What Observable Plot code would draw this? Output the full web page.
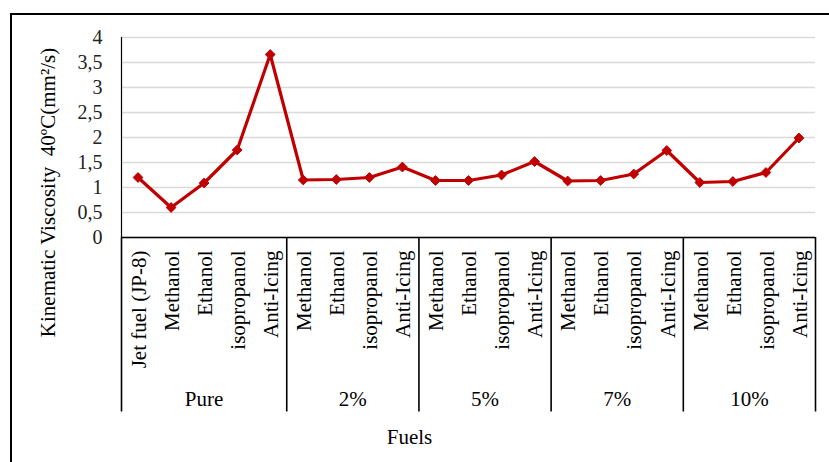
<!DOCTYPE html>
<html>
<head>
<meta charset="utf-8">
<script src="https://cdn.jsdelivr.net/npm/d3@7"></script>
<script src="https://cdn.jsdelivr.net/npm/@observablehq/plot@0.6"></script>
<style>
  html, body { margin: 0; padding: 0; background: #fff; }
  #chart { position: relative; width: 829px; height: 462px; overflow: hidden; background: #fff; }
  #chart .border { position: absolute; left: 10px; top: 13px; width: 900px; height: 600px;
    border: 2px solid #000; box-sizing: border-box; pointer-events: none; }
  #chart svg { position: absolute; left: 0; top: 0; }
</style>
</head>
<body>
<div id="chart"><div class="border"></div></div>
<script>
// Blend groups and the fuels measured in each
const groups = ["Pure", "2%", "5%", "7%", "10%"];
const pureFuels = ["Jet fuel (JP-8)", "Methanol", "Ethanol", "isopropanol", "Anti-Icing"];
const blendFuels = ["Methanol", "Ethanol", "isopropanol", "Anti-Icing"];

// Kinematic viscosity at 40 °C (mm²/s)
const pureValues = [1.20, 0.60, 1.09, 1.75, 3.66];
const blend2Values = [1.15, 1.16, 1.20, 1.41];
const blend5Values = [1.14, 1.14, 1.25, 1.52];
const blend7Values = [1.13, 1.14, 1.27, 1.74];
const blend10Values = [1.10, 1.12, 1.30, 1.99];

const yTicks = [0, 0.5, 1, 1.5, 2, 2.5, 3, 3.5, 4];

// Flatten into rows with a running category position
const groupFuels = [pureFuels, blendFuels, blendFuels, blendFuels, blendFuels];
const groupValues = [pureValues, blend2Values, blend5Values, blend7Values, blend10Values];
const rows = [];
const groupRows = [];
const bounds = [0];
let pos = 0;
groups.forEach((g, gi) => {
  const start = pos;
  groupFuels[gi].forEach((fuel, i) => {
    rows.push({group: g, fuel, value: groupValues[gi][i], pos: pos + 0.5});
    pos += 1;
  });
  bounds.push(pos);
  groupRows.push({group: g, mid: (start + pos) / 2});
});

const red = "#C00000";

const chart = Plot.plot({
  width: 829,
  height: 462,
  marginTop: 37,
  marginBottom: 225,
  marginLeft: 121,
  marginRight: 14,
  style: {fontFamily: "'Liberation Serif', 'Times New Roman', serif", color: "#000", background: "transparent", overflow: "visible"},
  x: {domain: [0, pos], axis: null},
  y: {domain: [0, 4]},
  marks: [
    Plot.gridY(yTicks, {stroke: "#d9d9d9", strokeOpacity: 1, strokeWidth: 1.6}),
    Plot.axisY({ticks: yTicks, tickSize: 0, tickPadding: 19, label: null, fontSize: 20,
      tickFormat: d => String(d).replace(".", ","), fill: "#222"}),
    Plot.ruleX([0], {stroke: "#000", strokeWidth: 1.2}),
    // category box beneath the plot
    Plot.ruleY([0], {stroke: "#000", strokeWidth: 1.6}),
    Plot.ruleX(bounds, {y1: 0, y2: 0, insetBottom: -174.5, stroke: "#000", strokeWidth: 1.6}),
    Plot.line(rows, {x: "pos", y: "value", stroke: red, strokeWidth: 3.2}),
    Plot.dot(rows, {x: "pos", y: "value", symbol: "diamond2", r: 4.4, fill: red, stroke: red, strokeWidth: 1}),
    Plot.text(rows, {x: "pos", text: "fuel", frameAnchor: "bottom", rotate: -90, textAnchor: "end",
      lineAnchor: "middle", dy: 13, dx: 1, fontSize: 21, fill: "#000"}),
    Plot.text(groupRows, {x: "mid", text: "group", frameAnchor: "bottom", dy: 162,
      textAnchor: "middle", lineAnchor: "middle", fontSize: 21, fill: "#000"}),
    Plot.text(["Fuels"], {frameAnchor: "bottom", dx: -59, dy: 200, textAnchor: "middle",
      lineAnchor: "middle", fontSize: 21, fill: "#000"}),
    Plot.text(["Kinematic Viscosity  40ºC(mm²/s)"], {frameAnchor: "left", dx: -73, dy: 55, rotate: -90,
      textAnchor: "middle", lineAnchor: "middle", fontSize: 21, fill: "#000"})
  ]
});

document.getElementById("chart").appendChild(chart);
</script>
</body>
</html>
